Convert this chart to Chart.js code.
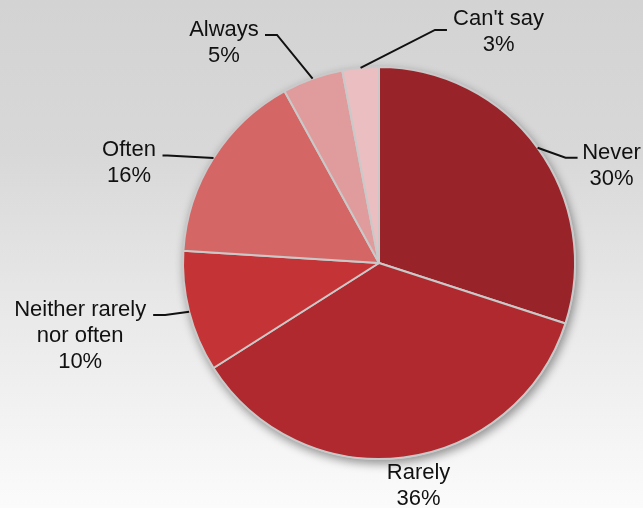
<!DOCTYPE html>
<html>
<head>
<meta charset="utf-8">
<script src="https://cdn.jsdelivr.net/npm/chart.js@4.4.1/dist/chart.umd.min.js"></script>
<style>
  html, body { margin: 0; padding: 0; background: #fff; }
  #wrap { width: 643px; height: 508px; position: relative; }
</style>
</head>
<body>
<div id="wrap"><canvas id="usage-pie"></canvas></div>
<script>
// Data definitions
const answerLabels = ['Never', 'Rarely', ['Neither rarely', 'nor often'], 'Often', 'Always', "Can't say"];
const answerShares = [30, 36, 10, 16, 5, 3];
const sliceColors = ['#98242a', '#b0292e', '#c43335', '#d46766', '#e09b9c', '#ebbfc1'];

// Where each callout sits, relative to the point on the rim at the middle of its slice
// elbow: bend of the leader line, tail: flat end of the leader, text: centre x / first baseline
const calloutLayout = [
  { elbow: [28, 10], tail: 12, text: [74, 11] },
  { elbow: null, tail: 0, text: [15, 21.5] },
  { elbow: [-24, 3.3], tail: -12, text: [-109, 4.3] },
  { elbow: [-46, -2.5], tail: -5, text: [-84.5, -2] },
  { elbow: [-35.6, -43.6], tail: -12, text: [-88.6, -42.6] },
  { elbow: [74.4, -37.9], tail: 12, text: [138, -43] }
];

// Grey backdrop fading to white towards the bottom
const backdrop = {
  id: 'backdrop',
  beforeDraw(chart) {
    const { ctx, width, height } = chart;
    const g = ctx.createLinearGradient(0, 0, 0, height);
    g.addColorStop(0, '#d3d3d3');
    g.addColorStop(0.3, '#d8d8d8');
    g.addColorStop(0.6, '#e8e8e8');
    g.addColorStop(1, '#fbfbfb');
    ctx.save();
    ctx.fillStyle = g;
    ctx.fillRect(0, 0, width, height);
    ctx.restore();
  }
};

// Soft drop shadow under the whole pie
const pieShadow = {
  id: 'pieShadow',
  beforeDatasetsDraw(chart) {
    const arc = chart.getDatasetMeta(0).data[0];
    if (!arc) return;
    const { ctx } = chart;
    ctx.save();
    ctx.shadowColor = 'rgba(0,0,0,0.4)';
    ctx.shadowBlur = 10;
    ctx.shadowOffsetX = 2;
    ctx.shadowOffsetY = 4;
    ctx.fillStyle = '#c9c9c9';
    ctx.beginPath();
    ctx.arc(arc.x, arc.y, arc.outerRadius + 1, 0, Math.PI * 2);
    ctx.fill();
    ctx.restore();
  }
};

// Category + percentage callouts with leader lines
const callouts = {
  id: 'callouts',
  afterDatasetsDraw(chart) {
    const { ctx } = chart;
    const arcs = chart.getDatasetMeta(0).data;
    ctx.save();
    ctx.font = '22px "Liberation Sans", Arial, sans-serif';
    ctx.fillStyle = '#111';
    ctx.strokeStyle = '#111';
    ctx.lineWidth = 2;
    ctx.textAlign = 'center';
    ctx.textBaseline = 'alphabetic';
    arcs.forEach((arc, i) => {
      const mid = (arc.startAngle + arc.endAngle) / 2;
      const ax = arc.x + Math.cos(mid) * arc.outerRadius;
      const ay = arc.y + Math.sin(mid) * arc.outerRadius;
      const lay = calloutLayout[i];
      if (lay.elbow) {
        const ex = ax + lay.elbow[0], ey = ay + lay.elbow[1];
        ctx.beginPath();
        ctx.moveTo(ax, ay);
        ctx.lineTo(ex, ey);
        ctx.lineTo(ex + lay.tail, ey);
        ctx.stroke();
      }
      const name = answerLabels[i];
      const lines = (Array.isArray(name) ? name : [name]).concat(answerShares[i] + '%');
      lines.forEach((ln, k) => {
        ctx.fillText(ln, ax + lay.text[0], ay + lay.text[1] + k * 26);
      });
    });
    ctx.restore();
  }
};

new Chart(document.getElementById('usage-pie').getContext('2d'), {
  type: 'pie',
  data: {
    labels: answerLabels,
    datasets: [{
      data: answerShares,
      backgroundColor: sliceColors,
      borderColor: '#c9c9c9',
      borderWidth: 2,
      radius: 196
    }]
  },
  options: {
    responsive: true,
    maintainAspectRatio: false,
    animation: false,
    layout: { padding: { top: 60, bottom: 42, left: 180, right: 65 } },
    plugins: {
      legend: { display: false },
      tooltip: { enabled: false }
    }
  },
  plugins: [backdrop, pieShadow, callouts]
});
</script>
</body>
</html>
